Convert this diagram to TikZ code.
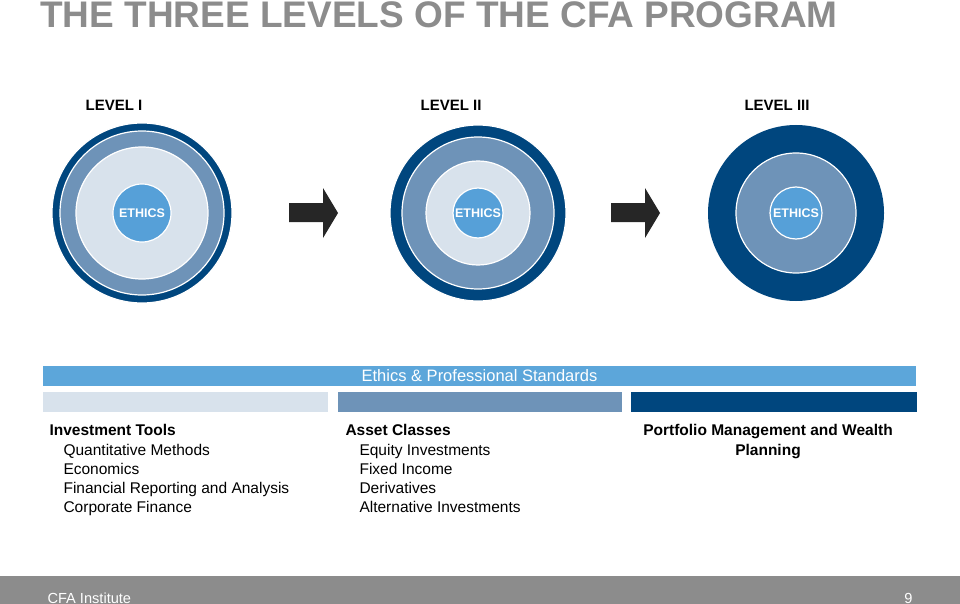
\documentclass[tikz,border=0pt]{standalone}
\usepackage{fontspec}
\setmainfont{Liberation Sans}
\usetikzlibrary{positioning}
\definecolor{cfadark}{RGB}{0,70,126}
\definecolor{cfamid}{RGB}{110,147,184}
\definecolor{cfalight}{RGB}{216,226,236}
\definecolor{cfaethics}{RGB}{86,160,216}
\definecolor{cfabar}{RGB}{92,166,218}
\definecolor{cfagray}{RGB}{140,140,140}
\tikzset{
  ring/.style    = { circle, draw=white, line width=1.2pt, inner sep=0pt },
  ethics/.style  = { ring, fill=cfaethics, text=white, font=\bfseries\fontsize{12.5}{14}\selectfont },
  level/.style   = { font=\bfseries\fontsize{15}{17}\selectfont },
  bar/.style     = { rectangle, inner sep=0pt, minimum height=20pt },
  topic/.style   = { align=left, anchor=north west, font=\fontsize{15.5}{19.3}\selectfont },
  steparrow/.style = { fill=black!85 },
}
\begin{document}
\begin{tikzpicture}[x=1pt,y=-1pt]
  \useasboundingbox (0,0) rectangle (960,604);
  \node[anchor=west, text=cfagray, font=\bfseries\fontsize{37}{40}\selectfont, inner sep=0pt] (title) at (40,15)
    {THE THREE LEVELS OF THE CFA PROGRAM};

  % level I
  \node (l1) [ring,fill=cfadark,minimum size=180pt]  at (142,213) {};
  \node (l1m) [ring,fill=cfamid,minimum size=164pt]  at (l1) {};
  \node (l1l) [ring,fill=cfalight,minimum size=132pt] at (l1) {};
  \node (e1) [ethics,minimum size=58pt] at (l1) {ETHICS};
  \node [level] at (114,105) {LEVEL I};

  % level II
  \node (l2) [ring,fill=cfadark,minimum size=176pt]  at (478,213) {};
  \node (l2m) [ring,fill=cfamid,minimum size=152pt]  at (l2) {};
  \node (l2l) [ring,fill=cfalight,minimum size=104pt] at (l2) {};
  \node (e2) [ethics,minimum size=50pt] at (l2) {ETHICS};
  \node [level] at (451,105) {LEVEL II};

  % level III
  \node (l3) [ring,fill=cfadark,draw=none,minimum size=176pt] at (796,213) {};
  \node (l3m) [ring,fill=cfamid,minimum size=120pt]  at (l3) {};
  \node (e3) [ethics,minimum size=52pt] at (l3) {ETHICS};
  \node [level] at (777,105) {LEVEL III};

  % arrows between levels
  \foreach \ax in {289,611}
    \fill[steparrow] (\ax,203) -- ++(34,0) -- ++(0,-15) -- ++(15,25) -- ++(-15,25)
      -- ++(0,-16) -- ++(-34,0) -- cycle;

  % bars
  \node (eb) [bar,fill=cfabar,minimum width=873pt,text=white,font=\fontsize{16.5}{18}\selectfont]
    at (479.5,375.5) {Ethics \& Professional Standards};
  \node (b1) [bar,fill=cfalight,minimum width=285pt,anchor=north west] at (43,392) {};
  \node (b2) [bar,fill=cfamid,minimum width=284pt,anchor=north west] at (338,392) {};
  \node (b3) [bar,fill=cfadark,minimum width=286pt,anchor=north west] at (631,392) {};

  \node (t1) [topic] at (46,421) {\textbf{Investment Tools}\\
    \hspace{14pt}Quantitative Methods\\ \hspace{14pt}Economics\\
    \hspace{14pt}Financial Reporting and Analysis\\ \hspace{14pt}Corporate Finance};
  \node (t2) [topic] at (342,421) {\textbf{Asset Classes}\\
    \hspace{14pt}Equity Investments\\ \hspace{14pt}Fixed Income\\
    \hspace{14pt}Derivatives\\ \hspace{14pt}Alternative Investments};
  \node (t3) [topic,anchor=north,align=center,font=\bfseries\fontsize{15.5}{19.3}\selectfont]
    at (768,421) {Portfolio Management and Wealth\\Planning};

  % footer
  \fill[cfagray] (0,576) rectangle (960,604);
  \node (org) [anchor=west,text=white,font=\fontsize{14.6}{16}\selectfont] at (44,598) {CFA Institute};
  \node (pg) [anchor=east,text=white,font=\fontsize{14.6}{16}\selectfont] at (916,598) {9};
\end{tikzpicture}
\end{document}
